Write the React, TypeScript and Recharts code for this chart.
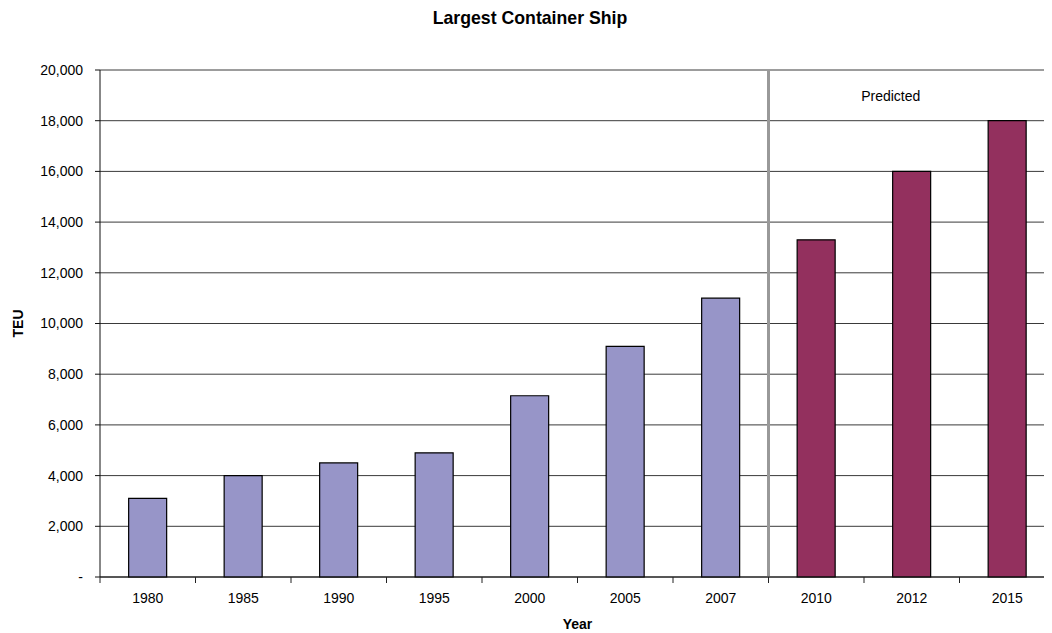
import React from "react";
import {
  Bar,
  BarChart,
  CartesianGrid,
  Cell,
  ReferenceDot,
  ReferenceLine,
  XAxis,
  YAxis,
} from "recharts";

const years = ["1980", "1985", "1990", "1995", "2000", "2005", "2007", "2010", "2012", "2015"];
const teu = [3100, 4000, 4500, 4900, 7150, 9100, 11000, 13300, 16000, 18000];
const predictedYears = ["2010", "2012", "2015"];
const yTicks = [0, 2000, 4000, 6000, 8000, 10000, 12000, 14000, 16000, 18000, 20000];

const data = years.map((year, i) => ({ year, teu: teu[i] }));

const FONT = "'Liberation Sans', Arial, sans-serif";
const ACTUAL = "#9795C8";
const PREDICTED = "#93305E";

const fmt = (v: number) => (v === 0 ? "-" : v.toLocaleString("en-US"));

// Excel style: tick marks sit between categories, labels in the middle
function YearTick(props: any) {
  const { x, y, payload, width } = props;
  const band = width / years.length;
  const axisY = y - 16;
  return (
    <g>
      <line x1={x - band / 2} x2={x - band / 2} y1={axisY} y2={axisY + 6} stroke="#222" />
      <text x={x} y={y} dy="0.71em" textAnchor="middle" fontSize={14} fontFamily={FONT} fill="#000">
        {payload.value}
      </text>
    </g>
  );
}

export default function App() {
  return (
    <div style={{ position: "relative", width: 1044, height: 625, overflow: "hidden", fontFamily: FONT }}>
      <div
        style={{
          position: "absolute",
          top: 0,
          left: 0,
          width: 1044,
          textAlign: "center",
          fontWeight: "bold",
          fontSize: 17.7,
          lineHeight: "21px",
        }}
      >
        Largest Container Ship
      </div>
      <BarChart
        width={1050}
        height={625}
        data={data}
        margin={{ top: 62, right: 3, bottom: 26, left: 0 }}
        barCategoryGap="30%"
      >
        <CartesianGrid horizontal vertical={false} stroke="#3a3a3a" />
        <XAxis
          dataKey="year"
          stroke="#111"
          tickLine={false}
          tickSize={5}
          tickMargin={11}
          height={30}
          tick={<YearTick />}
          label={(p: any) => (
            <text
              x={p.viewBox.x + p.viewBox.width / 2}
              y={p.viewBox.y + 47}
              textAnchor="middle"
              dominantBaseline="central"
              fontSize={14}
              fontWeight="bold"
              fontFamily={FONT}
            >
              Year
            </text>
          )}
        />
        <YAxis
          width={92}
          domain={[0, 20000]}
          ticks={yTicks}
          interval={0}
          stroke="#111"
          tickSize={5}
          tickMargin={12}
          tick={{ fontSize: 14, fill: "#000", fontFamily: FONT }}
          tickFormatter={fmt}
          label={(p: any) => (
            <text
              x={p.viewBox.x + 10}
              y={p.viewBox.y + p.viewBox.height / 2}
              transform={`rotate(-90, ${p.viewBox.x + 10}, ${p.viewBox.y + p.viewBox.height / 2})`}
              textAnchor="middle"
              dominantBaseline="central"
              fontSize={14}
              fontWeight="bold"
              fontFamily={FONT}
            >
              TEU
            </text>
          )}
        />
        <Bar dataKey="teu" stroke="#000" strokeWidth={1.2} isAnimationActive={false}>
          {data.map((d) => (
            <Cell key={d.year} fill={predictedYears.includes(d.year) ? PREDICTED : ACTUAL} />
          ))}
        </Bar>
        <ReferenceLine x="2010" position="start" stroke="#999" strokeWidth={3} />
        <ReferenceDot
          x="2012"
          y={19000}
          r={0}
          fill="none"
          stroke="none"
          label={(p: any) => (
            <text
              x={p.viewBox.x - 21}
              y={p.viewBox.y + 1}
              textAnchor="middle"
              dominantBaseline="central"
              fontSize={14}
              fontFamily={FONT}
              fill="#000"
            >
              Predicted
            </text>
          )}
        />
      </BarChart>
    </div>
  );
}
